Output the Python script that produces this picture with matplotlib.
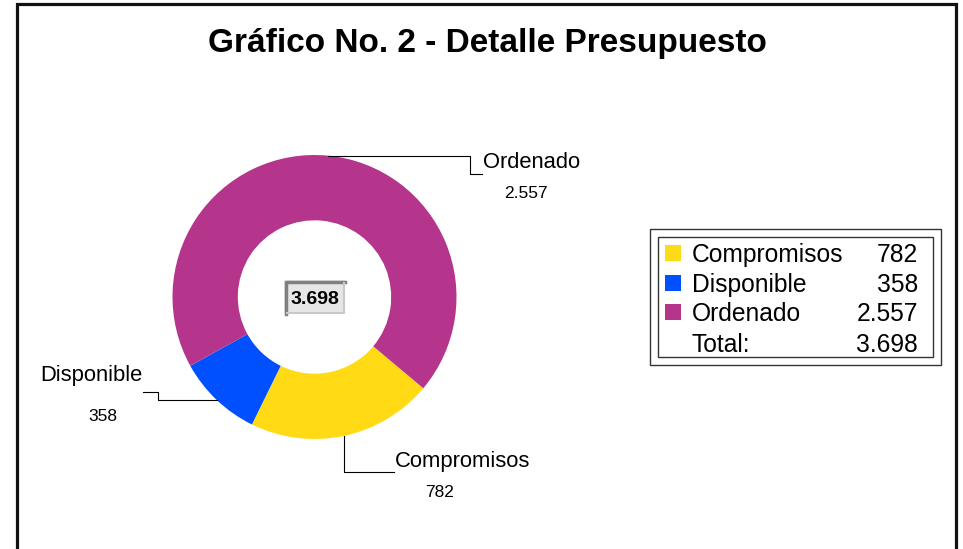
import matplotlib
matplotlib.use('Agg')
import matplotlib.pyplot as plt
import numpy as np
from matplotlib.patches import Rectangle

# ---- data ----
categories = ['Compromisos', 'Disponible', 'Ordenado']
values = [782, 358, 2557]
value_labels = ['782', '358', '2.557']
total_text = 'Total:'
total_label = '3.698'
colors = ['#FFDA15', '#0050FF', '#B5358C']
title = 'Gráfico No. 2 - Detalle Presupuesto'

plt.rcParams['font.family'] = ['Liberation Sans', 'DejaVu Sans']

W, H = 963, 549
fig = plt.figure(figsize=(W / 100, H / 100), dpi=100)
ax = fig.add_axes([0, 0, 1, 1])


def Y(p):
    return H - p


cx, cy, R = 314.5, Y(297), 142
wedges, _ = ax.pie(values, colors=colors, startangle=-40, counterclock=False,
                   radius=R, center=(cx, cy), frame=True,
                   wedgeprops=dict(width=R * 0.46, edgecolor='none', linewidth=0))
ax.set_xlim(0, W)
ax.set_ylim(0, H)
ax.set_aspect('equal')
ax.axis('off')

# figure border
ax.plot([17, 17, 956, 956], [Y(560), Y(4), Y(4), Y(560)], color='#111111',
        lw=2.3, solid_joinstyle='miter', clip_on=False)

# title
ax.text(487, Y(52), title, fontsize=24, fontweight='bold', ha='center', va='baseline')

# leader lines & labels (layout in pixels)
layout = {
    'Compromisos': dict(path=[('v', 472), ('h', 394)], name=(395, 467, 'left'), val=(440, 497)),
    'Disponible': dict(path=[('h', 158), ('v', 392), ('h', 143)], name=(91, 381, 'center'), val=(103, 421)),
    'Ordenado': dict(path=[('h', 470), ('v', 174), ('h', 482)], name=(483, 168, 'left'), val=(526, 198)),
}
for w, cat, vl in zip(wedges, categories, value_labels):
    mid = np.deg2rad((w.theta1 + w.theta2) / 2)
    x0, y0 = cx + R * np.cos(mid), cy + R * np.sin(mid)
    xs, ys = [x0], [y0]
    for kind, v in layout[cat]['path']:
        if kind == 'h':
            xs.append(v); ys.append(ys[-1])
        else:
            xs.append(xs[-1]); ys.append(Y(v))
    ax.plot(xs, ys, color='black', lw=0.8)
    nx, ny, ha = layout[cat]['name']
    ax.text(nx, Y(ny), cat, fontsize=15.8, ha=ha, va='baseline')
    vx, vy = layout[cat]['val']
    ax.text(vx, Y(vy), vl, fontsize=12.5, ha='center', va='baseline')

# center total box
bx0, bx1, by0, by1 = 284, 345, 280, 314
ax.add_patch(Rectangle((bx0, Y(by1)), bx1 - bx0, by1 - by0, fc='#E6E6E6', ec='none'))
ax.plot([bx0 + 1.5, bx0 + 1.5, bx1], [Y(by1), Y(by0 + 1.5), Y(by0 + 1.5)], color='#808080', lw=2.5)
ax.plot([bx0 + 3, bx1 - 1, bx1 - 1], [Y(by1 - 1), Y(by1 - 1), Y(by0 + 3)], color='#C8C8C8', lw=1.5)
ax.text(314.5, Y(303.5), total_label, fontsize=14, fontweight='bold', ha='center', va='baseline')

# legend
ax.add_patch(Rectangle((650, Y(365)), 291, 136, fill=False, ec='#333333', lw=1.0))
ax.add_patch(Rectangle((658, Y(357)), 275, 120, fill=False, ec='#333333', lw=1.0))
baselines = [262, 292, 321, 352]
for i, (cat, vl, col) in enumerate(zip(categories, value_labels, colors)):
    b = baselines[i]
    ax.add_patch(Rectangle((665, Y(b - 1)), 16, 16, fc=col, ec='none'))
    ax.text(692, Y(b), cat, fontsize=17.7, ha='left', va='baseline')
    ax.text(918, Y(b), vl, fontsize=17.7, ha='right', va='baseline')
ax.text(692, Y(baselines[3]), total_text, fontsize=17.7, ha='left', va='baseline')
ax.text(918, Y(baselines[3]), total_label, fontsize=17.7, ha='right', va='baseline')

fig.savefig('out.png', dpi=100, facecolor='white')
